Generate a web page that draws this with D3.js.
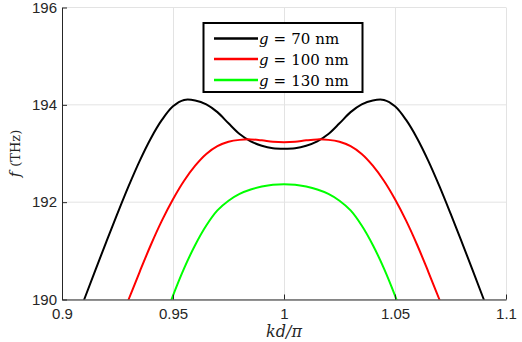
<!DOCTYPE html>
<html>
<head>
<meta charset="utf-8">
<script src="https://cdn.jsdelivr.net/npm/d3@7"></script>
<style>
  body { margin: 0; background: #fff; }
  svg { display: block; }
</style>
</head>
<body>
<svg id="chart" width="522" height="342"></svg>
<script>
// kd/pi sample points
const kd = [0.905, 0.910, 0.915, 0.920, 0.925, 0.930, 0.935, 0.940, 0.945, 0.950, 0.955,
            0.960, 0.965, 0.970, 0.975, 0.980, 0.985, 0.990, 0.995, 1.000,
            1.005, 1.010, 1.015, 1.020, 1.025, 1.030, 1.035, 1.040, 1.045,
            1.050, 1.055, 1.060, 1.065, 1.070, 1.075, 1.080, 1.085, 1.090, 1.095]

// f (THz), g = 70 nm
const g70 = [189.39, 190.00, 190.60, 191.19, 191.77, 192.33, 192.85, 193.31, 193.69, 193.97, 194.10,
             194.09, 194.01, 193.85, 193.62, 193.40, 193.25, 193.16, 193.11, 193.10,
             193.11, 193.16, 193.25, 193.40, 193.62, 193.85, 194.01, 194.09, 194.10,
             193.97, 193.69, 193.31, 192.85, 192.33, 191.77, 191.19, 190.60, 190.00, 189.39]

// g = 100 nm (null where far below the axis)
const g100 = [null, null, null, null, 189.43, 190.00, 190.57, 191.12, 191.62, 192.06, 192.44,
              192.75, 192.99, 193.15, 193.24, 193.28, 193.29, 193.27, 193.24, 193.23,
              193.24, 193.27, 193.29, 193.28, 193.24, 193.15, 192.99, 192.75, 192.44,
              192.06, 191.62, 191.12, 190.57, 190.00, 189.43, null, null, null, null]

// g = 130 nm
const g130 = [null, null, null, null, null, null, null, null, 189.45, 190.08, 190.64,
              191.12, 191.52, 191.83, 192.03, 192.17, 192.26, 192.32, 192.36, 192.37,
              192.36, 192.32, 192.26, 192.17, 192.03, 191.83, 191.52, 191.12, 190.64,
              190.08, 189.45, null, null, null, null, null, null, null, null]

const series = [
  { g: "70", values: g70, color: "#000000" },
  { g: "100", values: g100, color: "#ff0000" },
  { g: "130", values: g130, color: "#00ff00" }
]

const xTicks = [0.9, 0.95, 1, 1.05, 1.1]
const yTicks = [190, 192, 194, 196]

const margin = { left: 62, top: 7.5, right: 16, bottom: 42.5 }
const width = 522, height = 342

const svg = d3.select("#chart")

const x = d3.scaleLinear().domain([0.9, 1.1]).range([margin.left, width - margin.right])
const y = d3.scaleLinear().domain([190, 196]).range([height - margin.bottom, margin.top])

// grid
svg.append("g")
    .selectAll("line")
    .data(xTicks)
    .join("line")
    .attr("x1", d => Math.round(x(d)) + 0.5).attr("x2", d => Math.round(x(d)) + 0.5)
    .attr("y1", y(190)).attr("y2", y(196))
    .attr("stroke", "#e3e3e3")

svg.append("g")
    .selectAll("line")
    .data(yTicks)
    .join("line")
    .attr("y1", d => y(d)).attr("y2", d => y(d))
    .attr("x1", x(0.9)).attr("x2", x(1.1))
    .attr("stroke", "#e3e3e3")

// curves
svg.append("clipPath").attr("id", "plot-clip")
    .append("rect")
    .attr("x", x(0.9)).attr("y", y(196))
    .attr("width", x(1.1) - x(0.9)).attr("height", y(190) - y(196))

const line = d3.line()
    .defined(d => d[1] != null)
    .x(d => x(d[0]))
    .y(d => y(d[1]))
    .curve(d3.curveCatmullRom)

svg.append("g")
    .attr("clip-path", "url(#plot-clip)")
    .selectAll("path")
    .data(series)
    .join("path")
    .attr("d", s => line(kd.map((k, i) => [k, s.values[i]])))
    .attr("fill", "none")
    .attr("stroke", s => s.color)
    .attr("stroke-width", 2)

// axes
const axisColor = "#262626"
const tickFont = "'Liberation Sans', Arial, sans-serif"

const xAxis = svg.append("g")
    .attr("transform", `translate(0,${y(190)})`)
    .call(d3.axisBottom(x).tickValues(xTicks).tickFormat(d3.format("")).tickSizeInner(-5).tickSizeOuter(0).tickPadding(9))

const yAxis = svg.append("g")
    .attr("transform", `translate(${x(0.9)},0)`)
    .call(d3.axisLeft(y).tickValues(yTicks).tickFormat(d3.format("d")).tickSizeInner(-5).tickSizeOuter(0).tickPadding(5))

for (const ax of [xAxis, yAxis]) {
    ax.select(".domain").attr("stroke", axisColor)
    ax.selectAll(".tick line").attr("stroke", axisColor)
    ax.selectAll("text")
        .attr("fill", axisColor)
        .style("font-family", tickFont)
        .style("font-size", "15px")
}

// axis titles
const serif = "'DejaVu Serif', 'Liberation Serif', serif"

svg.append("text")
    .attr("x", x(1)).attr("y", 337)
    .attr("text-anchor", "middle")
    .style("font-family", serif).style("font-size", "16px").style("font-style", "italic")
    .attr("fill", axisColor)
    .text("kd/π")

const yLabel = svg.append("text")
    .attr("transform", `translate(20,${(y(190) + y(196)) / 2}) rotate(-90)`)
    .attr("text-anchor", "middle")
    .style("font-family", serif).style("font-size", "15px")
    .attr("fill", axisColor)
yLabel.append("tspan").style("font-style", "italic").text("f")
yLabel.append("tspan").attr("dx", 5).style("font-size", "13px").text("(THz)")

// legend
const legend = svg.append("g")
legend.append("rect")
    .attr("x", 203.5).attr("y", 23)
    .attr("width", 159).attr("height", 69)
    .attr("fill", "#fff")
    .attr("stroke", "#000")
    .attr("stroke-width", 2)

const rowY = [38.5, 59, 80]
const rows = legend.selectAll("g.row")
    .data(series)
    .join("g")
    .attr("class", "row")
    .attr("transform", (d, i) => `translate(0,${rowY[i]})`)

rows.append("line")
    .attr("x1", 214).attr("x2", 258)
    .attr("stroke", d => d.color)
    .attr("stroke-width", 2.5)

const label = rows.append("text")
    .attr("x", 259).attr("y", 5.5)
    .style("font-family", serif).style("font-size", "15px")
    .attr("fill", "#000")
label.append("tspan").style("font-style", "italic").text("g")
label.append("tspan").attr("dx", 5).text("=")
label.append("tspan").attr("dx", 5).text(d => d.g)
label.append("tspan").attr("dx", 5).text("nm")
</script>
</body>
</html>
